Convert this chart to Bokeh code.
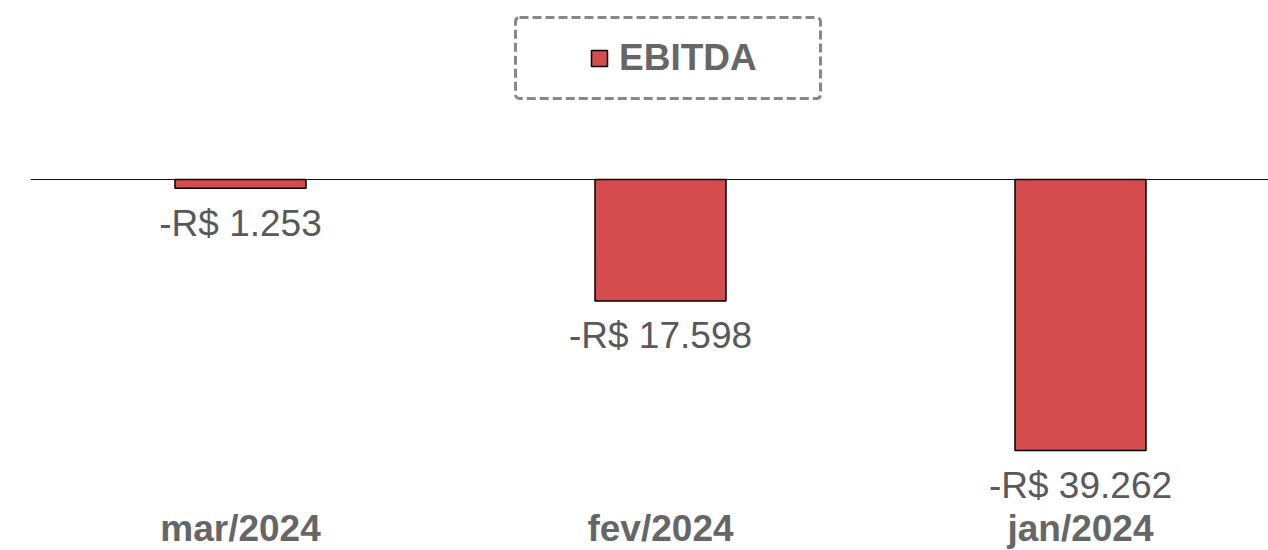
from bokeh.plotting import figure
from bokeh.models import ColumnDataSource, Range1d, Span, Legend, LegendItem, BoxAnnotation
from bokeh.core.properties import value
from bokeh.embed import file_html
from bokeh.resources import INLINE

categories = ["mar/2024", "fev/2024", "jan/2024"]
ebitda = [-1253, -17598, -39262]
series_name = "EBITDA"

def fmt(v):
    s = f"{abs(v):,}".replace(",", ".")
    return ("-" if v < 0 else "") + "R$ " + s

xs = [i + 0.5 for i in range(len(categories))]
labels = [fmt(v) for v in ebitda]

W, H = 1268, 550
frame_left = 30
k = 271 / 39262.0  # px per unit
zero_off = 179
y_end = zero_off / k
y_start = -(H - zero_off) / k

src = ColumnDataSource(dict(x=xs, top=[0] * len(ebitda), bottom=ebitda, lab=labels, cat=categories,
                            cy=[y_start] * len(categories)))

p = figure(width=W, height=H, output_backend="svg", toolbar_location=None,
           x_range=Range1d(0, (W - frame_left) / 420.0), y_range=Range1d(y_start, y_end),
           min_border_left=frame_left, min_border_right=0, min_border_top=0, min_border_bottom=0)
p.axis.visible = False
p.grid.visible = False
p.outline_line_color = None
p.background_fill_color = "white"
p.border_fill_color = "white"

bars = p.vbar(x="x", top="top", bottom="bottom", width=131 / 420.0, source=src,
              fill_color="#d54c4f", line_color="black", line_width=1.5)

p.add_layout(Span(location=0, dimension="width", line_color="#111111", line_width=1.2))

p.text(x="x", y="bottom", text="lab", source=src, text_align="center", text_baseline="middle",
       y_offset=35, text_font=value("Liberation Sans"), text_font_size="37px", text_color="#595959")

p.text(x="x", y="cy", text="cat", source=src, text_align="center", text_baseline="middle",
       y_offset=-22, text_font=value("Liberation Sans"), text_font_size="37px",
       text_font_style="bold", text_color="#666666")

legend = Legend(items=[LegendItem(label=series_name, renderers=[bars])],
                location=(559, 471), orientation="horizontal",
                padding=0, margin=0, spacing=0, glyph_width=20, glyph_height=20, label_standoff=10,
                label_text_font="Liberation Sans", label_text_font_size="37px",
                label_text_font_style="bold", label_text_color="#666666",
                border_line_color=None, background_fill_alpha=0)
p.add_layout(legend)

box = BoxAnnotation(left=485, right=790, top=533, bottom=452,
                    left_units="screen", right_units="screen", top_units="screen", bottom_units="screen",
                    fill_alpha=0, line_color="#888888", line_alpha=1.0, line_width=3,
                    line_dash="9 4", border_radius=4)
p.add_layout(box)

open("out.html", "w").write(file_html(p, INLINE))
